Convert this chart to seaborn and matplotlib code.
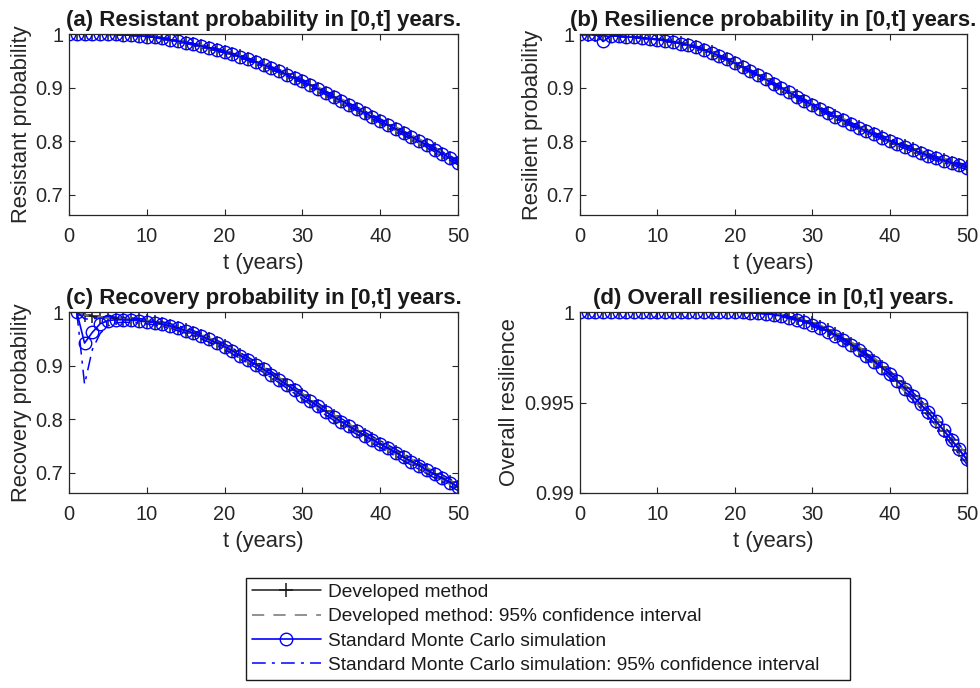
import matplotlib
matplotlib.use('Agg')
import matplotlib.pyplot as plt
import seaborn as sns
import numpy as np

# ---------------- data ----------------
t_full = list(range(0, 51))
t_rec = list(range(1, 51))

res_dev = [1.000, 1.000, 1.000, 0.9999, 0.9998, 0.9995, 0.9992, 0.9987, 0.998, 0.997,
           0.9955, 0.994, 0.992, 0.9895, 0.987, 0.984, 0.981, 0.978, 0.9745, 0.971,
           0.967, 0.9625, 0.958, 0.953, 0.948, 0.9425, 0.937, 0.931, 0.9245, 0.918,
           0.912, 0.905, 0.898, 0.8905, 0.883, 0.8755, 0.868, 0.8605, 0.853, 0.8455,
           0.838, 0.8305, 0.823, 0.8155, 0.808, 0.8005, 0.7925, 0.7845, 0.7765, 0.7685,
           0.760]
res_mc = [1.000, 1.000, 0.9999, 0.9999, 0.9997, 0.9994, 0.9991, 0.9986, 0.9979, 0.9969,
          0.9953, 0.9938, 0.9918, 0.9893, 0.9867, 0.9838, 0.9807, 0.9776, 0.9742, 0.9706,
          0.9667, 0.9621, 0.9576, 0.9527, 0.9476, 0.9421, 0.9366, 0.9306, 0.9241, 0.9176,
          0.9117, 0.9046, 0.8976, 0.8901, 0.8826, 0.8751, 0.8677, 0.8601, 0.8526, 0.8452,
          0.8377, 0.8301, 0.8226, 0.8151, 0.8076, 0.8002, 0.7922, 0.7841, 0.7762, 0.7681,
          0.7597]
hw_ab = [0, 0, 0, 0, 0, 0.0002, 0.0003, 0.0004, 0.0005, 0.0006,
         0.0008, 0.0009, 0.0010, 0.0012, 0.0013, 0.0015, 0.0016, 0.0017, 0.0019, 0.0020,
         0.0021, 0.0022, 0.0023, 0.0024, 0.0025, 0.0026, 0.0027, 0.0028, 0.0029, 0.0030,
         0.0030, 0.0031, 0.0032, 0.0033, 0.0033, 0.0034, 0.0034, 0.0035, 0.0035, 0.0036,
         0.0036, 0.0037, 0.0037, 0.0038, 0.0038, 0.0038, 0.0039, 0.0039, 0.0039, 0.0040,
         0.0040]

resil_dev = [1.000, 0.999, 0.998, 0.9975, 0.997, 0.996, 0.995, 0.994, 0.993, 0.9915,
             0.990, 0.988, 0.9855, 0.9825, 0.9795, 0.976, 0.971, 0.9655, 0.9595, 0.953,
             0.946, 0.9385, 0.931, 0.9235, 0.9155, 0.9075, 0.8995, 0.8915, 0.8835, 0.8755,
             0.868, 0.8605, 0.853, 0.846, 0.839, 0.832, 0.8255, 0.819, 0.813, 0.807,
             0.801, 0.7955, 0.790, 0.7845, 0.7785, 0.773, 0.768, 0.764, 0.760, 0.7555,
             0.751]
resil_mc = [1.000, 1.000, 1.000, 0.986, 0.997, 0.9955, 0.9945, 0.9938, 0.9927, 0.9912,
            0.9897, 0.9877, 0.9851, 0.9822, 0.9791, 0.9756, 0.9706, 0.9651, 0.9591, 0.9526,
            0.9456, 0.9381, 0.9306, 0.9231, 0.9151, 0.9071, 0.8991, 0.8911, 0.8831, 0.8751,
            0.8676, 0.8601, 0.8526, 0.8456, 0.8386, 0.8316, 0.8251, 0.8186, 0.8126, 0.8066,
            0.8006, 0.7951, 0.7896, 0.7841, 0.7781, 0.7726, 0.7676, 0.7636, 0.7596, 0.7551,
            0.7506]

rec_dev = [1.000, 0.995, 0.992, 0.990, 0.989, 0.988, 0.987, 0.986, 0.9845, 0.983,
           0.981, 0.978, 0.9745, 0.9705, 0.966, 0.961, 0.9555, 0.9495, 0.943, 0.936,
           0.928, 0.9195, 0.911, 0.9025, 0.8935, 0.884, 0.8745, 0.8645, 0.8545, 0.8445,
           0.8345, 0.8245, 0.8145, 0.805, 0.7955, 0.787, 0.7785, 0.770, 0.762, 0.754,
           0.746, 0.738, 0.7295, 0.7215, 0.7135, 0.7055, 0.6975, 0.690, 0.682, 0.674]
rec_mc = [1.000, 0.942, 0.962, 0.978, 0.984, 0.9855, 0.9855, 0.9848, 0.9835, 0.9822,
          0.9802, 0.9772, 0.9737, 0.9697, 0.9652, 0.9602, 0.9547, 0.9487, 0.9422, 0.9352,
          0.9272, 0.9187, 0.9102, 0.9017, 0.8927, 0.8832, 0.8737, 0.8637, 0.8537, 0.8437,
          0.8337, 0.8237, 0.8137, 0.8042, 0.7947, 0.7862, 0.7777, 0.7692, 0.7612, 0.7532,
          0.7452, 0.7372, 0.7287, 0.7207, 0.7127, 0.7047, 0.6967, 0.6892, 0.6812, 0.6732]
hw_rec_dev = [0, 0.0005, 0.0008, 0.001, 0.0012, 0.0013, 0.0014, 0.0015, 0.0016, 0.0017,
              0.0018, 0.0019, 0.002, 0.0021, 0.0022, 0.0023, 0.0024, 0.0025, 0.0026, 0.0027,
              0.0028, 0.0029, 0.003, 0.0031, 0.0032, 0.0033, 0.0034, 0.0035, 0.0035, 0.0036,
              0.0036, 0.0037, 0.0037, 0.0038, 0.0038, 0.0039, 0.0039, 0.004, 0.004, 0.004,
              0.0041, 0.0041, 0.0041, 0.0042, 0.0042, 0.0042, 0.0042, 0.0043, 0.0043, 0.0043]
hw_rec_mc_lo = [0, 0.077, 0.032, 0.018, 0.010, 0.006, 0.0045, 0.0042, 0.0042, 0.0043,
                0.0043, 0.0044, 0.0045, 0.0046, 0.0047, 0.0048, 0.0049, 0.0050, 0.0051, 0.0052,
                0.0053, 0.0054, 0.0055, 0.0056, 0.0057, 0.0058, 0.0059, 0.0060, 0.0060, 0.0061,
                0.0061, 0.0062, 0.0062, 0.0063, 0.0063, 0.0064, 0.0064, 0.0064, 0.0065, 0.0065,
                0.0065, 0.0066, 0.0066, 0.0066, 0.0066, 0.0067, 0.0067, 0.0067, 0.0067, 0.0067]
hw_rec_mc_hi = [0, 0.045, 0.025, 0.012, 0.008, 0.005, 0.0045, 0.0042, 0.0042, 0.0043,
                0.0043, 0.0044, 0.0045, 0.0046, 0.0047, 0.0048, 0.0049, 0.0050, 0.0051, 0.0052,
                0.0053, 0.0054, 0.0055, 0.0056, 0.0057, 0.0058, 0.0059, 0.0060, 0.0060, 0.0061,
                0.0061, 0.0062, 0.0062, 0.0063, 0.0063, 0.0064, 0.0064, 0.0064, 0.0065, 0.0065,
                0.0065, 0.0066, 0.0066, 0.0066, 0.0066, 0.0067, 0.0067, 0.0067, 0.0067, 0.0067]

ovr_dev = [1.0, 1.0, 1.0, 1.0, 1.0, 1.0, 1.0, 1.0, 1.0, 1.0,
           1.0, 1.0, 1.0, 1.0, 1.0, 1.0, 1.0, 1.0, 1.0, 1.0,
           1.0, 0.99999, 0.99998, 0.99996, 0.99993, 0.99989, 0.99983, 0.99975, 0.99965, 0.99952,
           0.99937, 0.99919, 0.99899, 0.99876, 0.99851, 0.99824, 0.99795, 0.99764, 0.99731, 0.99696,
           0.99659, 0.99620, 0.99579, 0.99536, 0.99491, 0.99444, 0.99395, 0.99344, 0.99291, 0.99237,
           0.99182]
ovr_mc = [1.0, 1.0, 1.0, 1.0, 1.0, 1.0, 1.0, 1.0, 1.0, 1.0,
          1.0, 1.0, 1.0, 1.0, 1.0, 1.0, 1.0, 1.0, 1.0, 1.0,
          0.99999, 0.99998, 0.99996, 0.99994, 0.99990, 0.99985, 0.99978, 0.99969, 0.99958, 0.99945,
          0.99930, 0.99912, 0.99892, 0.99869, 0.99844, 0.99817, 0.99788, 0.99757, 0.99725, 0.99691,
          0.99655, 0.99617, 0.99577, 0.99535, 0.99491, 0.99445, 0.99397, 0.99347, 0.99295, 0.99241,
          0.99186]
hw_ovr = [0, 0, 0, 0, 0, 0, 0, 0, 0, 0,
          0, 0, 0, 0, 0, 0, 0, 0, 0, 0,
          0, 0.00001, 0.00001, 0.00002, 0.00002, 0.00003, 0.00004, 0.00005, 0.00006, 0.00007,
          0.00008, 0.00009, 0.00010, 0.00011, 0.00012, 0.00013, 0.00014, 0.00015, 0.00016, 0.00017,
          0.00018, 0.00019, 0.00020, 0.00021, 0.00022, 0.00023, 0.00024, 0.00025, 0.00026, 0.00027,
          0.00028]

titles = ['(a) Resistant probability in [0,t] years.',
          '(b) Resilience probability in [0,t] years.',
          '(c) Recovery probability in [0,t] years.',
          '(d) Overall resilience in [0,t] years.']
ylabels = ['Resistant probability', 'Resilient probability',
           'Recovery probability', 'Overall resilience']
xlabel = 't (years)'
xticks = [0, 10, 20, 30, 40, 50]
yticks_prob = [0.7, 0.8, 0.9, 1.0]
yticklabels_prob = ['0.7', '0.8', '0.9', '1']
yticks_ovr = [0.99, 0.995, 1.0]
yticklabels_ovr = ['0.99', '0.995', '1']
legend_labels = ['Developed method',
                 'Developed method: 95% confidence interval',
                 'Standard Monte Carlo simulation',
                 'Standard Monte Carlo simulation: 95% confidence interval']

# ---------------- style ----------------
sns.set_theme(style='ticks')
plt.rcParams['font.family'] = ['Liberation Sans', 'DejaVu Sans']
plt.rcParams['axes.edgecolor'] = '0.15'
plt.rcParams['axes.linewidth'] = 0.9

fig = plt.figure(figsize=(9.8, 6.88), dpi=100)
W, H = 980.0, 688.0

def add_ax(l, r, top, bottom):
    return fig.add_axes([l / W, 1 - bottom / H, (r - l) / W, (bottom - top) / H])

axes = [add_ax(69, 458, 34, 215), add_ax(580, 967, 34, 215),
        add_ax(69, 458, 312, 493), add_ax(580, 967, 312, 493)]

BLUE = (0.0, 0.0, 1.0)
GRAY = (0.45, 0.45, 0.45)
DASH = (0, (8, 6))
DASHDOT = (0, (9, 4, 2, 4))

def draw(ax, t, dev, dev_hw, mc, mc_hw_lo, mc_hw_hi, with_labels):
    t = np.asarray(t, float)
    dev = np.asarray(dev, float)
    mc = np.asarray(mc, float)
    dlo = dev - np.asarray(dev_hw); dhi = dev + np.asarray(dev_hw)
    mlo = mc - np.asarray(mc_hw_lo); mhi = mc + np.asarray(mc_hw_hi)
    lab = legend_labels if with_labels else [None] * 4
    sns.lineplot(x=t, y=dev, ax=ax, color='k', lw=1.1, marker='+', markersize=10,
                 markeredgewidth=1.1, markeredgecolor='k', label=lab[0], sort=False, legend=False)
    sns.lineplot(x=t, y=dlo, ax=ax, color=GRAY, lw=1.1, linestyle=DASH,
                 label=lab[1], sort=False, legend=False)
    sns.lineplot(x=t, y=dhi, ax=ax, color=GRAY, lw=1.1, linestyle=DASH, sort=False, legend=False)
    sns.lineplot(x=t, y=mc, ax=ax, color=BLUE, lw=1.2, marker='o', markersize=9,
                 markerfacecolor='none', markeredgecolor=BLUE, markeredgewidth=1.0,
                 label=lab[2], sort=False, legend=False)
    sns.lineplot(x=t, y=mlo, ax=ax, color=BLUE, lw=1.1, linestyle=DASHDOT,
                 label=lab[3], sort=False, legend=False)
    sns.lineplot(x=t, y=mhi, ax=ax, color=BLUE, lw=1.1, linestyle=DASHDOT,
                 sort=False, legend=False)

draw(axes[0], t_full, res_dev, hw_ab, res_mc, hw_ab, hw_ab, True)
draw(axes[1], t_full, resil_dev, hw_ab, resil_mc, hw_ab, hw_ab, False)
draw(axes[2], t_rec, rec_dev, hw_rec_dev, rec_mc, hw_rec_mc_lo, hw_rec_mc_hi, False)
draw(axes[3], t_full, ovr_dev, hw_ovr, ovr_mc, hw_ovr, hw_ovr, False)

for i, ax in enumerate(axes):
    ax.set_xlim(0, 50)
    ax.set_xticks(xticks)
    ax.set_xticklabels([str(v) for v in xticks])
    if i < 3:
        ax.set_ylim(0.662, 1.0)
        ax.set_yticks(yticks_prob)
        ax.set_yticklabels(yticklabels_prob)
    else:
        ax.set_ylim(0.99, 1.0)
        ax.set_yticks(yticks_ovr)
        ax.set_yticklabels(yticklabels_ovr)
    for s in ax.spines.values():
        s.set_visible(True)
        s.set_color('0.15')
        s.set_linewidth(0.9)
    ax.tick_params(direction='in', top=True, right=True, length=4, width=0.8,
                   colors='0.15', labelsize=14.4, labelcolor='0.15')
    ax.tick_params(axis='x', pad=9)
    ax.tick_params(axis='y', pad=4)
    ax.set_xlabel(xlabel, fontsize=15.8, color='0.15', labelpad=5)
    ax.set_ylabel(ylabels[i], fontsize=15.8, color='0.15', labelpad=3)
    ax.set_title(titles[i], fontsize=16, fontweight='bold', color='k', pad=6)
    ax.set_facecolor('white')

handles, labels = axes[0].get_legend_handles_labels()
leg = fig.legend(handles, labels, loc='upper left',
                 bbox_to_anchor=(246 / W, 1 - 578 / H - 108 / H, 604 / W, 108 / H),
                 mode='expand', fontsize=13.8, frameon=True, fancybox=False,
                 framealpha=1, edgecolor='k', borderpad=0.3, handlelength=3.6,
                 handletextpad=0.4, labelspacing=0.36, numpoints=1, borderaxespad=0)
leg.get_frame().set_linewidth(1.0)
for txt in leg.get_texts():
    txt.set_color('0.1')

fig.savefig('out.png', dpi=100, facecolor='white')
